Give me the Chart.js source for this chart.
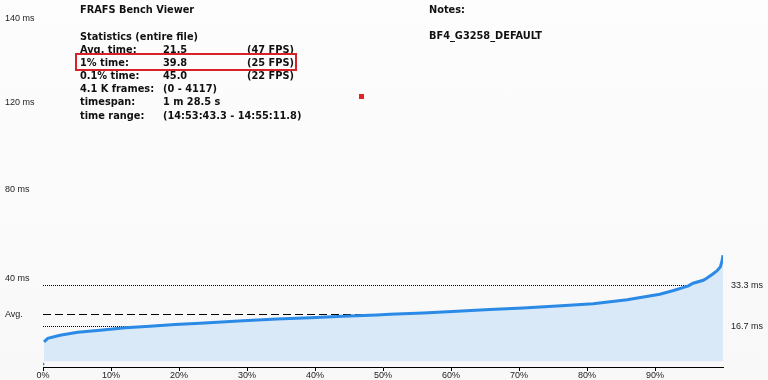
<!DOCTYPE html>
<html>
<head>
<meta charset="utf-8">
<script src="https://cdn.jsdelivr.net/npm/chart.js@4/dist/chart.umd.min.js"></script>
<style>
html,body{margin:0;padding:0;background:#fbfbfb;}
#wrap{position:relative;width:768px;height:380px;overflow:hidden;background:linear-gradient(to bottom,#fdfdfd,#f8f8f8);}
#c{position:absolute;left:0;top:0;}
.t{position:absolute;font-family:"DejaVu Sans",sans-serif;font-weight:bold;font-size:9.8px;color:#111;white-space:nowrap;line-height:12px;}
#hl{position:absolute;left:75px;top:53px;width:218px;height:14px;border:2px solid #d8222a;}
#dot{position:absolute;left:359px;top:94px;width:5px;height:5px;background:#e02424;}
</style>
</head>
<body>
<div id="wrap">
  <canvas id="c" width="768" height="380"></canvas>
  <div id="info"></div>
  <div id="hl"></div>
  <div id="dot"></div>
</div>
<script>
// ---- data ----
const percentiles = [0.15, 0.7, 2.5, 5.1, 8.4, 12.1, 15.7, 19.4, 23.1, 29.4, 34.4, 39.3, 44.1, 49.1, 51.0, 55.9, 60.9, 65.7, 70.6, 75.6, 80.9, 85.9, 90.7, 92.6, 94.1, 94.9, 95.6, 97.1, 97.6, 98.4, 99.1, 99.6, 99.85, 100];
const frameTimes  = [10.3, 11.7, 13.0, 14.2, 15.0, 16.1, 16.7, 17.4, 17.9, 18.9, 19.6, 20.2, 20.8, 21.3, 21.6, 22.1, 22.8, 23.5, 24.2, 25.0, 25.9, 27.5, 29.8, 31.2, 32.5, 33.2, 34.3, 35.5, 36.3, 37.9, 39.3, 40.9, 43.3, 45.7];
const firstFrame = [0, 1.2];
const fillBase = 2.4;
const avgTime = 21.5;
const msTicks = [40, 80, 120, 140];
const fpsRefTicks = [16.7, 33.3];
const xTicks = [0, 10, 20, 30, 40, 50, 60, 70, 80, 90];

const titleText = "FRAFS Bench Viewer";
const notesLabel = "Notes:";
const notesText = "BF4_G3258_DEFAULT";
const statsHeader = "Statistics (entire file)";
const statLabels = ["Avg. time:", "1% time:", "0.1% time:", "4.1 K frames:", "timespan:", "time range:"];
const statValues = ["21.5", "39.8", "45.0", "(0 - 4117)", "1 m 28.5 s", "(14:53:43.3 - 14:55:11.8)"];
const statFps = ["(47 FPS)", "(25 FPS)", "(22 FPS)", "", "", ""];

// ---- text block ----
const info = document.getElementById('info');
function addText(txt, x, yc){
  const d = document.createElement('div');
  d.className = 't'; d.textContent = txt;
  d.style.left = x + 'px'; d.style.top = (yc - 6) + 'px';
  info.appendChild(d);
}
addText(titleText, 80, 10);
addText(notesLabel, 429, 10);
addText(notesText, 429, 36);
addText(statsHeader, 80, 36.5);
statLabels.forEach((l, i) => {
  const yc = 50 + i * 13.1;
  addText(l, 80, yc);
  addText(statValues[i], 163, yc);
  if (statFps[i]) addText(statFps[i], 247, yc);
});

// ---- piecewise ms scale (matches the viewer's axis) ----
const BREAKS = [[0,0],[50,50],[80,76.2],[120,112.1],[140,146.2],[141.4,148.6]];
function toU(v){
  for (let i = 1; i < BREAKS.length; i++){
    const [a,ua] = BREAKS[i-1], [b,ub] = BREAKS[i];
    if (v <= b || i === BREAKS.length-1) return ua + (v - a) * (ub - ua) / (b - a);
  }
}
function fromU(u){
  for (let i = 1; i < BREAKS.length; i++){
    const [a,ua] = BREAKS[i-1], [b,ub] = BREAKS[i];
    if (u <= ub || i === BREAKS.length-1) return a + (u - ua) * (b - a) / (ub - ua);
  }
}
class MsScale extends Chart.LinearScale {
  getPixelForValue(value){
    if (value === null || value === undefined) return NaN;
    const u0 = toU(this.min), u1 = toU(this.max);
    return this.getPixelForDecimal((toU(value) - u0) / (u1 - u0));
  }
  getValueForPixel(pixel){
    const u0 = toU(this.min), u1 = toU(this.max);
    return fromU(u0 + this.getDecimalForPixel(pixel) * (u1 - u0));
  }
}
MsScale.id = 'msScale';
MsScale.defaults = Chart.LinearScale.defaults;
Chart.register(MsScale);

const tickFont = {family: '"Liberation Sans", Arial, sans-serif', size: 9};
const tickColor = '#1c1c1c';
const Y_MIN = 0, Y_MAX = 141.4;
const noPadY = w => s => { s.width = w; s.paddingTop = 0; s.paddingBottom = 0; };

new Chart(document.getElementById('c'), {
  type: 'line',
  data: {
    datasets: [
      {
        label: 'frame time',
        data: percentiles.map((p, i) => ({x: p, y: frameTimes[i]})),
        borderColor: '#2b8ae6',
        backgroundColor: '#d9e9f8',
        borderWidth: 3,
        pointRadius: 0,
        tension: 0,
        fill: {value: fillBase},
        yAxisID: 'y'
      },
      {
        label: 'first',
        data: [{x: firstFrame[0], y: firstFrame[1]}],
        showLine: false,
        pointRadius: 1.5,
        pointBackgroundColor: '#2b8ae6',
        pointBorderWidth: 0,
        yAxisID: 'y'
      }
    ]
  },
  options: {
    responsive: false,
    devicePixelRatio: 1,
    animation: false,
    events: [],
    layout: {padding: {left: 5, top: 0, right: 0, bottom: 0}},
    plugins: {legend: {display: false}, tooltip: {enabled: false}, title: {display: false}},
    scales: {
      x: {
        type: 'linear', position: 'bottom', min: 0, max: 100,
        afterBuildTicks: s => { s.ticks = xTicks.map(v => ({value: v})); },
        afterFit: s => { s.height = 13; s.paddingLeft = 0; s.paddingRight = 0; },
        ticks: {callback: v => v + '%', font: tickFont, color: tickColor, padding: -1, maxRotation: 0, autoSkip: false},
        grid: {drawOnChartArea: false, drawTicks: true, tickLength: 4, tickColor: '#000', color: '#000'},
        border: {display: true, color: '#000', width: 1}
      },
      y: {
        type: 'msScale', position: 'left', weight: 0, min: Y_MIN, max: Y_MAX,
        afterBuildTicks: s => { s.ticks = msTicks.map(v => ({value: v})); },
        afterFit: noPadY(38),
        ticks: {callback: v => v + ' ms', font: tickFont, color: tickColor, crossAlign: 'far', labelOffset: 9, padding: 0, autoSkip: false},
        grid: {display: false},
        border: {display: false}
      },
      yAvg: {
        type: 'msScale', position: 'left', weight: 1, min: Y_MIN, max: Y_MAX,
        afterBuildTicks: s => { s.ticks = [{value: avgTime}]; },
        afterFit: noPadY(0),
        ticks: {callback: () => 'Avg.', font: tickFont, color: tickColor, mirror: true, crossAlign: 'near', padding: 0, autoSkip: false},
        grid: {display: true, drawOnChartArea: true, drawTicks: false, color: '#000', lineWidth: 1},
        border: {display: false, dash: [8, 4]}
      },
      yR: {
        type: 'msScale', position: 'right', min: Y_MIN, max: Y_MAX,
        afterBuildTicks: s => { s.ticks = fpsRefTicks.map(v => ({value: v})); },
        afterFit: noPadY(45),
        ticks: {callback: v => v.toFixed(1) + ' ms', font: tickFont, color: tickColor, padding: 8, autoSkip: false},
        grid: {display: true, drawOnChartArea: true, drawTicks: false, color: '#000', lineWidth: 1},
        border: {display: false, dash: [1, 1]}
      }
    }
  }
});
</script>
</body>
</html>
